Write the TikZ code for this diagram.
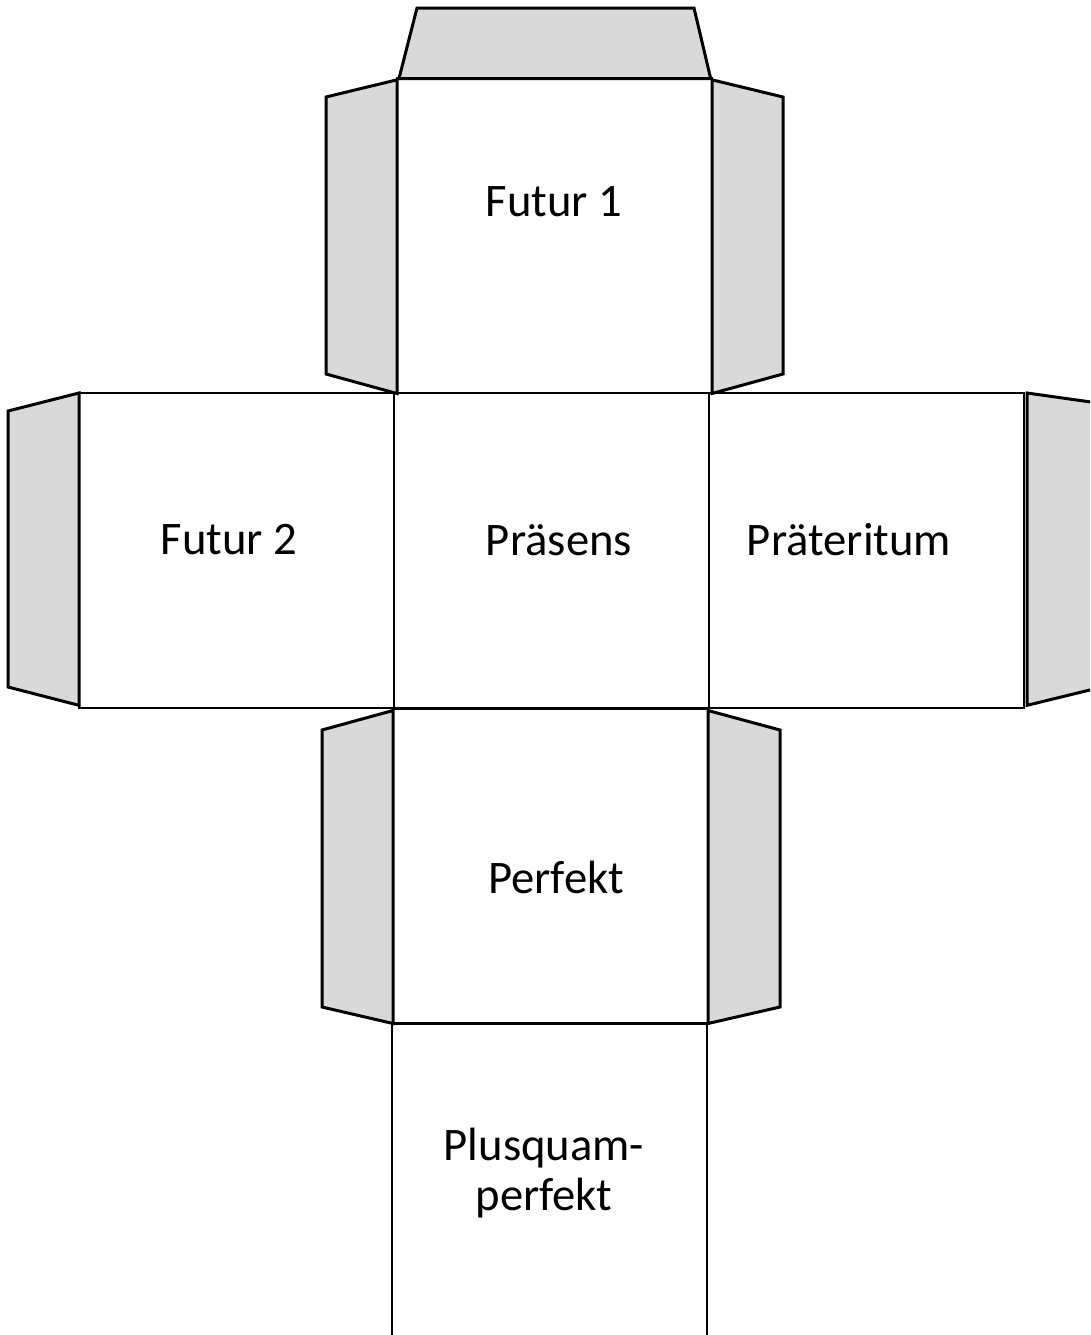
\documentclass[tikz,border=0pt]{standalone}
\usepackage{fontspec}
\setmainfont{Carlito}
\usepackage{tikz}
\definecolor{flapgray}{rgb}{0.85,0.85,0.85}
\tikzstyle{cubeface}=[rectangle, draw, line width=1.6pt, fill=white, inner sep=0pt, outer sep=0pt, minimum width=236.25pt, minimum height=236.25pt]
\tikzstyle{openface}=[rectangle, inner sep=0pt, outer sep=0pt, minimum width=236.25pt, minimum height=240pt]
\tikzstyle{facetext}=[font=\fontsize{35}{35}\selectfont, align=center, inner sep=0pt]
\tikzstyle{flap}=[draw, line width=2.25pt, line join=miter, fill=flapgray]
\newcommand{\cubeface}[4]{
	\node[cubeface] (#1) at (#2) {};
	\node[facetext] (#1-text) at (#3) {#4};}

\begin{document}
\begin{tikzpicture}[x=0.75pt, y=-0.75pt]
	\clip (0,0) rectangle (1090,1335);
	\fill[white] (0,0) rectangle (1090,1335);

	\cubeface{futur1}{554.5,236}{554,202}{Futur 1}
	\cubeface{futur2}{236.5,550.5}{229,540}{Futur 2}
	\cubeface{praesens}{551.5,550.5}{559,540}{Präsens}
	\cubeface{praeteritum}{866.5,550.5}{849,540}{Präteritum}
	\cubeface{perfekt}{550.5,866}{556,877}{Perfekt}

	\node[openface] (plusquam) at (549.5,1184) {};
	\node[facetext] (plusquam-text) at (544,1173) {Plusquam-\\[3pt]perfekt};
	\draw[line width=1.6pt] (plusquam.north west) -- (plusquam.south west);
	\draw[line width=1.6pt] (plusquam.north east) -- (plusquam.south east);

	% flaps
	\draw[flap] (futur1.north west) ++(2,0) -- (417,8) -- (694,8) -- ([xshift=-1pt]futur1.north east) -- cycle;
	\draw[flap] ([yshift=-1pt]futur1.north west) -- (326,97) -- (326,374) -- (futur1.south west) -- cycle;
	\draw[flap] ([yshift=-1pt]futur1.north east) -- (783,97) -- (783,374) -- (futur1.south east) -- cycle;
	\draw[flap] (futur2.north west) -- (8,411) -- (8,687) -- ([yshift=2pt]futur2.south west) -- cycle;
	\draw[flap] ([xshift=2.25pt]praeteritum.north east) -- (1098,403) -- (1098,688) -- ([xshift=2.25pt,yshift=2pt]praeteritum.south east) -- cycle;
	\draw[flap] ([yshift=-1.5pt]perfekt.north west) -- (322,730) -- (322,1007) -- (perfekt.south west) -- cycle;
	\draw[flap] ([yshift=-1.5pt]perfekt.north east) -- (780,730) -- (780,1007) -- (perfekt.south east) -- cycle;
\end{tikzpicture}
\end{document}
